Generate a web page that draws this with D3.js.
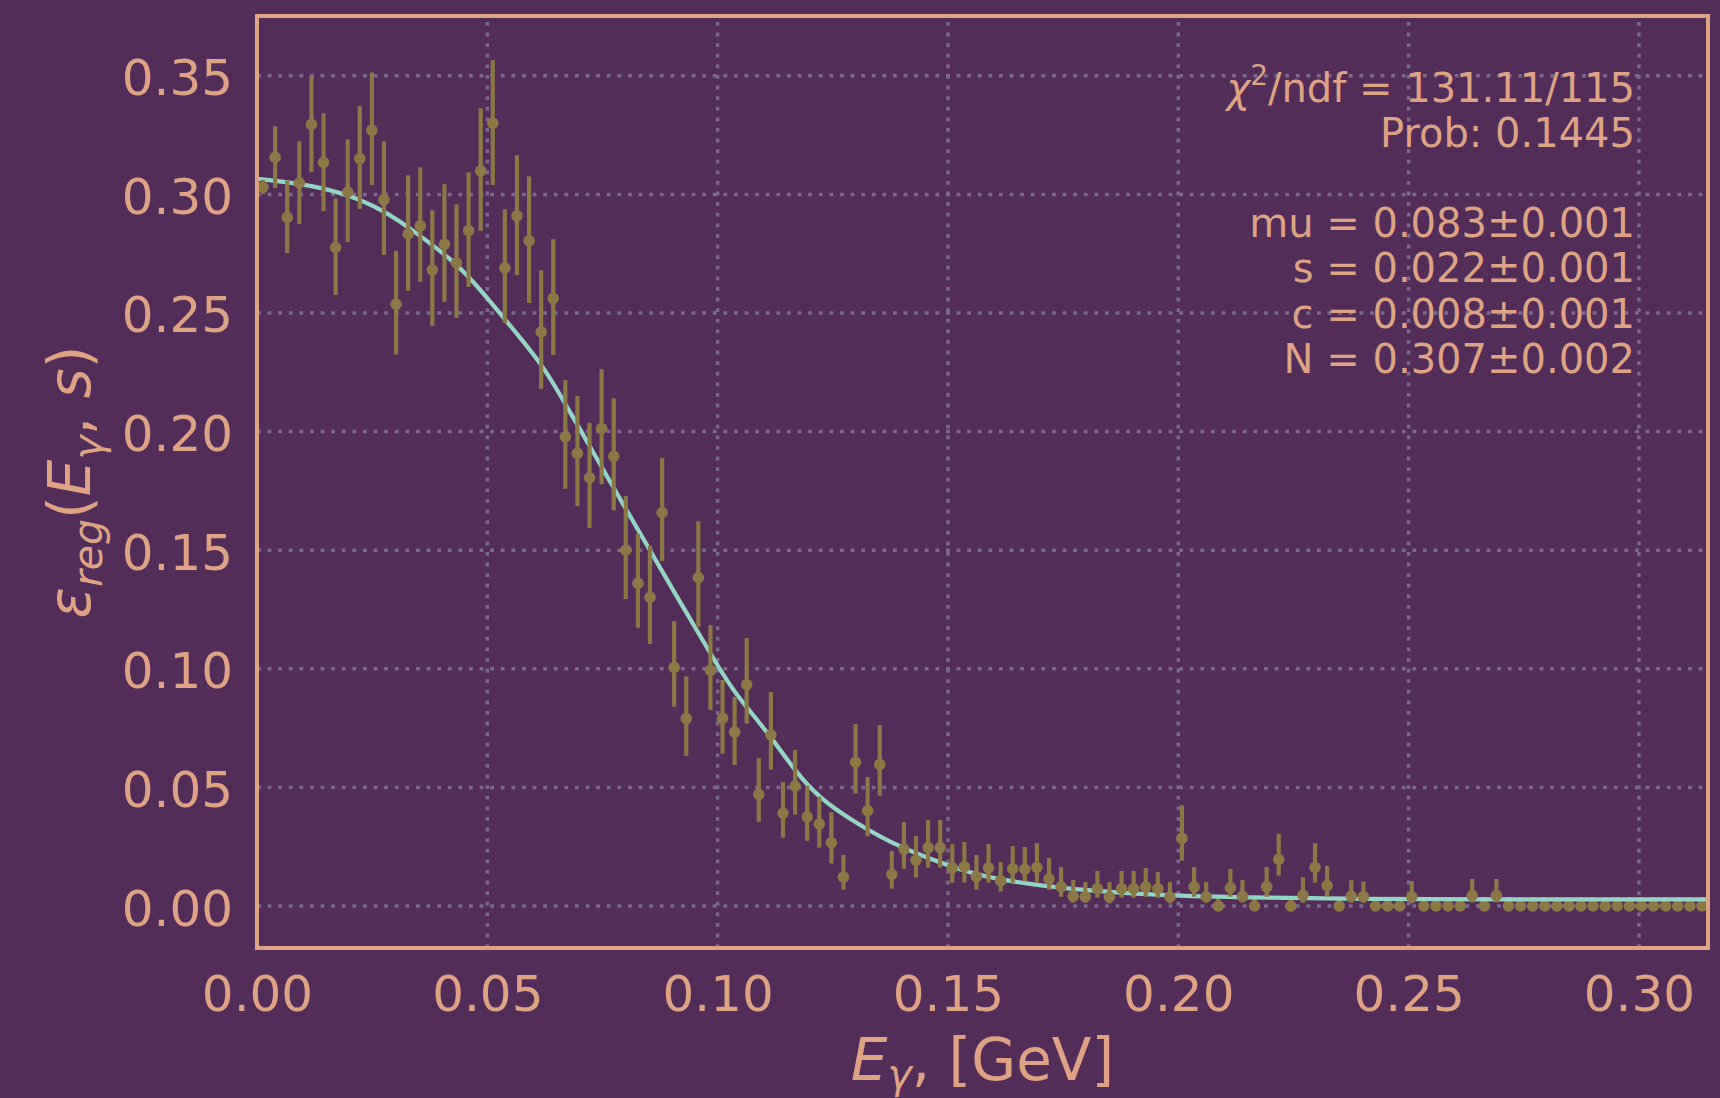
<!DOCTYPE html>
<html>
<head>
<meta charset="utf-8">
<script src="https://cdn.jsdelivr.net/npm/d3@7"></script>
<style>
  html, body { margin: 0; padding: 0; background: #532c59; }
  svg { display: block; }
  text { font-family: "DejaVu Sans", sans-serif; }
</style>
</head>
<body>
<svg id="chart" width="1720" height="1098"></svg>
<script>
// ---------------- data ----------------
const energy = [
  0.00131, 0.00394, 0.00656, 0.00919, 0.01181, 0.01444, 0.01706, 0.01969, 0.02231, 0.02494,
  0.02756, 0.03019, 0.03281, 0.03544, 0.03806, 0.04069, 0.04331, 0.04594, 0.04856, 0.05119,
  0.05381, 0.05644, 0.05906, 0.06169, 0.06431, 0.06694, 0.06956, 0.07219, 0.07481, 0.07744,
  0.08006, 0.08269, 0.08531, 0.08794, 0.09056, 0.09319, 0.09581, 0.09844, 0.10106, 0.10369,
  0.10631, 0.10894, 0.11156, 0.11419, 0.11681, 0.11944, 0.12206, 0.12469, 0.12731, 0.12994,
  0.13256, 0.13519, 0.13781, 0.14044, 0.14306, 0.14569, 0.14831, 0.15094, 0.15356, 0.15619,
  0.15881, 0.16144, 0.16406, 0.16669, 0.16931, 0.17194, 0.17456, 0.17719, 0.17981, 0.18244,
  0.18506, 0.18769, 0.19031, 0.19294, 0.19556, 0.19819, 0.20081, 0.20344, 0.20606, 0.20869,
  0.21131, 0.21394, 0.21656, 0.21919, 0.22181, 0.22444, 0.22706, 0.22969, 0.23231, 0.23494,
  0.23756, 0.24019, 0.24281, 0.24544, 0.24806, 0.25069, 0.25331, 0.25594, 0.25856, 0.26119,
  0.26381, 0.26644, 0.26906, 0.27169, 0.27431, 0.27694, 0.27956, 0.28219, 0.28481, 0.28744,
  0.29006, 0.29269, 0.29531, 0.29794, 0.30056, 0.30319, 0.30581, 0.30844, 0.31106, 0.31369
];
const efficiency = [
  0.3031, 0.3156, 0.2903, 0.3048, 0.3295, 0.3135, 0.2776, 0.3010, 0.3151, 0.3271,
  0.2978, 0.2537, 0.2833, 0.2868, 0.2682, 0.2790, 0.2711, 0.2847, 0.3099, 0.3300,
  0.2690, 0.2909, 0.2805, 0.2420, 0.2562, 0.1978, 0.1908, 0.1805, 0.2013, 0.1896,
  0.1500, 0.1360, 0.1301, 0.1659, 0.1006, 0.0790, 0.1385, 0.0993, 0.0791, 0.0733,
  0.0933, 0.0471, 0.0721, 0.0391, 0.0506, 0.0376, 0.0346, 0.0267, 0.0122, 0.0606,
  0.0402, 0.0597, 0.0134, 0.0240, 0.0193, 0.0246, 0.0246, 0.0161, 0.0166, 0.0124,
  0.0161, 0.0107, 0.0157, 0.0155, 0.0163, 0.0114, 0.0081, 0.0041, 0.0039, 0.0073,
  0.0038, 0.0073, 0.0073, 0.0081, 0.0073, 0.0038, 0.0285, 0.0081, 0.0039, 0.0000,
  0.0077, 0.0041, 0.0000, 0.0081, 0.0197, 0.0000, 0.0045, 0.0163, 0.0086, 0.0000,
  0.0042, 0.0040, 0.0000, 0.0000, 0.0000, 0.0039, 0.0000, 0.0000, 0.0000, 0.0000,
  0.0044, 0.0000, 0.0044, 0.0000, 0.0000, 0.0000, 0.0000, 0.0000, 0.0000, 0.0000,
  0.0000, 0.0000, 0.0000, 0.0000, 0.0000, 0.0000, 0.0000, 0.0000, 0.0000, 0.0000
];
const errUp = [
  0.0030, 0.0131, 0.0156, 0.0176, 0.0202, 0.0207, 0.0207, 0.0222, 0.0221, 0.0243,
  0.0246, 0.0225, 0.0247, 0.0246, 0.0251, 0.0253, 0.0247, 0.0246, 0.0264, 0.0266,
  0.0247, 0.0256, 0.0271, 0.0260, 0.0249, 0.0239, 0.0242, 0.0232, 0.0250, 0.0244,
  0.0228, 0.0208, 0.0219, 0.0229, 0.0195, 0.0178, 0.0237, 0.0191, 0.0162, 0.0149,
  0.0197, 0.0153, 0.0181, 0.0132, 0.0152, 0.0131, 0.0115, 0.0129, 0.0093, 0.0161,
  0.0142, 0.0166, 0.0098, 0.0114, 0.0102, 0.0117, 0.0117, 0.0100, 0.0104, 0.0091,
  0.0100, 0.0079, 0.0096, 0.0094, 0.0102, 0.0088, 0.0083, 0.0069, 0.0062, 0.0075,
  0.0063, 0.0075, 0.0075, 0.0079, 0.0070, 0.0063, 0.0140, 0.0083, 0.0062, 0.0038,
  0.0079, 0.0069, 0.0038, 0.0083, 0.0107, 0.0038, 0.0077, 0.0102, 0.0083, 0.0038,
  0.0067, 0.0063, 0.0038, 0.0038, 0.0038, 0.0066, 0.0038, 0.0038, 0.0038, 0.0038,
  0.0070, 0.0038, 0.0070, 0.0038, 0.0038, 0.0038, 0.0038, 0.0038, 0.0038, 0.0038,
  0.0038, 0.0038, 0.0038, 0.0038, 0.0038, 0.0038, 0.0038, 0.0038, 0.0038, 0.0038
];
const errDown = [
  0.0030, 0.0129, 0.0150, 0.0173, 0.0201, 0.0205, 0.0200, 0.0211, 0.0212, 0.0232,
  0.0233, 0.0212, 0.0240, 0.0237, 0.0236, 0.0243, 0.0232, 0.0237, 0.0253, 0.0260,
  0.0232, 0.0249, 0.0263, 0.0240, 0.0239, 0.0219, 0.0222, 0.0211, 0.0235, 0.0228,
  0.0206, 0.0187, 0.0196, 0.0204, 0.0166, 0.0157, 0.0208, 0.0166, 0.0149, 0.0138,
  0.0164, 0.0116, 0.0146, 0.0103, 0.0121, 0.0101, 0.0100, 0.0088, 0.0053, 0.0132,
  0.0108, 0.0132, 0.0061, 0.0083, 0.0073, 0.0084, 0.0084, 0.0063, 0.0067, 0.0055,
  0.0063, 0.0046, 0.0059, 0.0052, 0.0065, 0.0046, 0.0042, 0.0027, 0.0025, 0.0038,
  0.0027, 0.0038, 0.0038, 0.0042, 0.0038, 0.0027, 0.0094, 0.0042, 0.0025, 0.0000,
  0.0038, 0.0027, 0.0000, 0.0042, 0.0069, 0.0000, 0.0031, 0.0065, 0.0046, 0.0000,
  0.0028, 0.0027, 0.0000, 0.0000, 0.0000, 0.0027, 0.0000, 0.0000, 0.0000, 0.0000,
  0.0029, 0.0000, 0.0029, 0.0000, 0.0000, 0.0000, 0.0000, 0.0000, 0.0000, 0.0000,
  0.0000, 0.0000, 0.0000, 0.0000, 0.0000, 0.0000, 0.0000, 0.0000, 0.0000, 0.0000
];
// fit curve
const fitX = [
  0.0000, 0.0100, 0.0200, 0.0280, 0.0330, 0.0434, 0.0492, 0.0564, 0.0622, 0.0669,
  0.0722, 0.0752, 0.0832, 0.0919, 0.1006, 0.1038, 0.1117, 0.1169, 0.1221, 0.1301,
  0.1379, 0.1458, 0.1537, 0.1613, 0.1744, 0.1874, 0.2004, 0.2134, 0.2395, 0.2700, 0.3150
];
const fitY = [
  0.3066, 0.3045, 0.3000, 0.2926, 0.2860, 0.2711, 0.2582, 0.2413, 0.2275, 0.2118,
  0.1940, 0.1837, 0.1570, 0.1279, 0.0993, 0.0896, 0.0712, 0.0566, 0.0454, 0.0349,
  0.0264, 0.0201, 0.0145, 0.0110, 0.0075, 0.0056, 0.0042, 0.0037, 0.0029, 0.0028, 0.0028
];
const xTicks = [0.00, 0.05, 0.10, 0.15, 0.20, 0.25, 0.30];
const yTicks = [0.00, 0.05, 0.10, 0.15, 0.20, 0.25, 0.30, 0.35];
const fitLines = [
  "χ²/ndf = 131.11/115",
  "Prob: 0.1445",
  "",
  "mu = 0.083±0.001",
  "s = 0.022±0.001",
  "c = 0.008±0.001",
  "N = 0.307±0.002"
];

// ---------------- style ----------------
const BG = "#532c59", FG = "#dea383", GRID = "#7b6a8e", DATA = "#8b7845", FIT = "#92d7c6";
const W = 1720, H = 1098;
const plot = { left: 257, right: 1708, top: 16, bottom: 948 };

const svg = d3.select("#chart");
svg.append("rect").attr("width", W).attr("height", H).attr("fill", BG);

const x = d3.scaleLinear().domain([0, 0.315]).range([plot.left, plot.right]);
const y = d3.scaleLinear().domain([-0.0177, 0.3752]).range([plot.bottom, plot.top]);

svg.append("defs").append("clipPath").attr("id", "clip")
  .append("rect").attr("x", plot.left).attr("y", plot.top)
  .attr("width", plot.right - plot.left).attr("height", plot.bottom - plot.top);

// grid
const grid = svg.append("g").attr("stroke", GRID).attr("stroke-width", 3.5)
  .attr("stroke-dasharray", "3.8 6.8").attr("fill", "none");
xTicks.forEach(t => {
  grid.append("line").attr("x1", x(t)).attr("x2", x(t)).attr("y1", plot.bottom).attr("y2", plot.top);
});
yTicks.forEach(t => {
  grid.append("line").attr("x1", plot.left).attr("x2", plot.right).attr("y1", y(t)).attr("y2", y(t));
});

const pts = energy.map((e, i) => ({ e, v: efficiency[i], up: errUp[i], dn: errDown[i] }));
const body = svg.append("g").attr("clip-path", "url(#clip)");

function drawPoints(g, data) {
  g.selectAll("line.eb").data(data).join("line").attr("class", "eb")
    .attr("x1", d => x(d.e)).attr("x2", d => x(d.e))
    .attr("y1", d => y(d.v - d.dn)).attr("y2", d => y(d.v + d.up))
    .attr("stroke", DATA).attr("stroke-width", 4.2);
  g.selectAll("circle").data(data).join("circle")
    .attr("cx", d => x(d.e)).attr("cy", d => y(d.v)).attr("r", 5.8).attr("fill", DATA);
}

drawPoints(body.append("g"), pts.filter(d => d.v === 0));

const fitData = fitX.map((fx, i) => [fx, fitY[i]]);
body.append("path").datum(fitData)
  .attr("d", d3.line().x(d => x(d[0])).y(d => y(d[1])).curve(d3.curveBasis))
  .attr("fill", "none").attr("stroke", FIT).attr("stroke-width", 4.2);

drawPoints(body.append("g"), pts.filter(d => d.v !== 0));

// axes
const xAxis = d3.axisBottom(x).tickValues(xTicks).tickFormat(d3.format(".2f")).tickSize(0).tickPadding(27.5);
const gx = svg.append("g").attr("transform", `translate(0,${plot.bottom})`).call(xAxis);
gx.select(".domain").remove();
gx.selectAll("text").attr("fill", FG).attr("font-size", 50).attr("font-family", "DejaVu Sans");

const yAxis = d3.axisLeft(y).tickValues(yTicks).tickFormat(d3.format(".2f")).tickSize(0).tickPadding(24);
const gy = svg.append("g").attr("transform", `translate(${plot.left},0)`).call(yAxis);
gy.select(".domain").remove();
gy.selectAll("text").attr("fill", FG).attr("font-size", 50).attr("dy", "0.38em").attr("font-family", "DejaVu Sans");

// frame
svg.append("rect").attr("x", plot.left).attr("y", plot.top)
  .attr("width", plot.right - plot.left).attr("height", plot.bottom - plot.top)
  .attr("fill", "none").attr("stroke", FG).attr("stroke-width", 4);

// x label
const xl = svg.append("text").attr("x", (plot.left + plot.right) / 2).attr("y", 1080)
  .attr("text-anchor", "middle").attr("fill", FG).attr("font-size", 58);
xl.append("tspan").attr("font-style", "italic").text("E");
xl.append("tspan").attr("font-style", "italic").attr("font-size", 41).attr("dy", 8).text("γ");
xl.append("tspan").attr("dy", -8).text(", [GeV]");

// y label
const yl = svg.append("text").attr("transform", `translate(90,${(plot.top + plot.bottom) / 2}) rotate(-90)`)
  .attr("text-anchor", "middle").attr("fill", FG).attr("font-size", 58);
yl.append("tspan").attr("font-style", "italic").text("ε");
yl.append("tspan").attr("font-style", "italic").attr("font-size", 41).attr("dy", 12).text("reg");
yl.append("tspan").attr("dy", -12).text("(");
yl.append("tspan").attr("font-style", "italic").text("E");
yl.append("tspan").attr("font-style", "italic").attr("font-size", 41).attr("dy", 12).text("γ");
yl.append("tspan").attr("dy", -12).text(", ");
yl.append("tspan").attr("font-style", "italic").text("s");
yl.append("tspan").text(")");

// fit annotation
const annX = 1635;
const baselines = [101.7, 146.7, 192, 237.3, 282.3, 327.7, 373.3];
fitLines.forEach((line, i) => {
  if (!line) return;
  const t = svg.append("text").attr("x", annX).attr("y", baselines[i])
    .attr("text-anchor", "end").attr("fill", FG).attr("font-size", 40);
  if (line.startsWith("χ²")) {
    t.append("tspan").attr("font-style", "italic").text("χ");
    t.append("tspan").attr("font-size", 28).attr("dy", -17).text("2");
    t.append("tspan").attr("dy", 17).text(line.slice(2));
  } else {
    t.text(line);
  }
});
</script>
</body>
</html>
